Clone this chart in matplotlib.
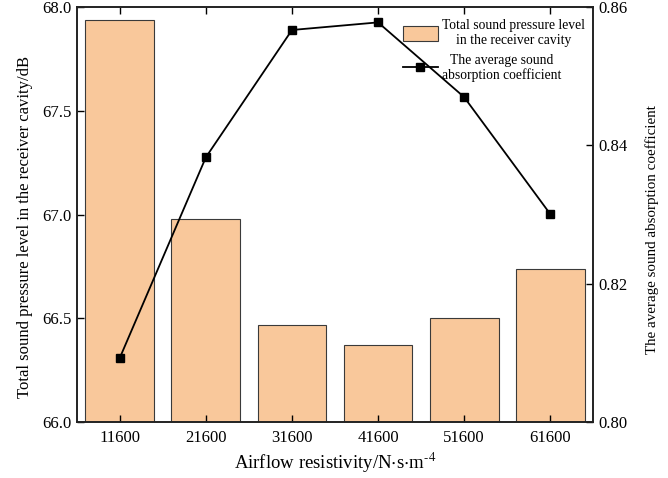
import matplotlib.pyplot as plt
import numpy as np

plt.rcParams['font.family'] = ['Liberation Serif', 'DejaVu Serif']
plt.rcParams['mathtext.fontset'] = 'stix'

resistivity = ['11600', '21600', '31600', '41600', '51600', '61600']
spl = [67.94, 66.98, 66.47, 66.37, 66.50, 66.74]
absorption = [0.8093, 0.8383, 0.8567, 0.8578, 0.8470, 0.8301]

x = np.arange(len(resistivity))

fig = plt.figure(figsize=(6.68, 4.78), dpi=100)
ax = fig.add_axes([0.115, 0.117, 0.773, 0.868])
ax2 = ax.twinx()

bars = ax.bar(x, spl, width=0.8, color='#F9C89B', edgecolor='#3a3a3a',
              linewidth=0.8, label='Total sound pressure level\nin the receiver cavity')
line, = ax2.plot(x, absorption, color='black', marker='s', markersize=6,
                 linewidth=1.3, label='The average sound\nabsorption coefficient')

ax.set_xlim(-0.5, 5.5)
ax.set_ylim(66.0, 68.0)
ax.set_yticks([66.0, 66.5, 67.0, 67.5, 68.0])
ax.set_yticklabels(['66.0', '66.5', '67.0', '67.5', '68.0'])
ax2.set_ylim(0.80, 0.86)
ax2.set_yticks([0.80, 0.82, 0.84, 0.86])
ax2.set_yticklabels(['0.80', '0.82', '0.84', '0.86'])
ax.set_xticks(x)
ax.set_xticklabels(resistivity)

ax.tick_params(axis='x', direction='in', top=True, length=5, width=1, labelsize=12, pad=6)
ax.tick_params(axis='y', direction='in', length=5, width=1, labelsize=12)
ax2.tick_params(axis='y', direction='in', length=5, width=1, labelsize=12)
for a in (ax, ax2):
    for s in a.spines.values():
        s.set_linewidth(1.2)
        s.set_color('#222222')

ax.set_xlabel(r'Airflow resistivity/N$\cdot$s$\cdot$m$^{\text{-}4}$', fontsize=13.5, labelpad=3)
ax.set_ylabel('Total sound pressure level in the receiver cavity/dB', fontsize=12)
ax.yaxis.set_label_coords(-0.085, 0.47)
ax2.set_ylabel('The average sound absorption coefficient', fontsize=10.8)
ax2.yaxis.set_label_coords(1.1, 0.465)

leg = ax2.legend([bars, line], [bars.get_label(), line.get_label()],
                 loc='upper right', bbox_to_anchor=(1.008, 1.0), frameon=False,
                 fontsize=9.8, handlelength=2.6, handleheight=1.3,
                 labelspacing=0.45, handletextpad=0.3)
for t in leg.get_texts():
    t.set_multialignment('center')

fig.savefig('out.png', dpi=100)
